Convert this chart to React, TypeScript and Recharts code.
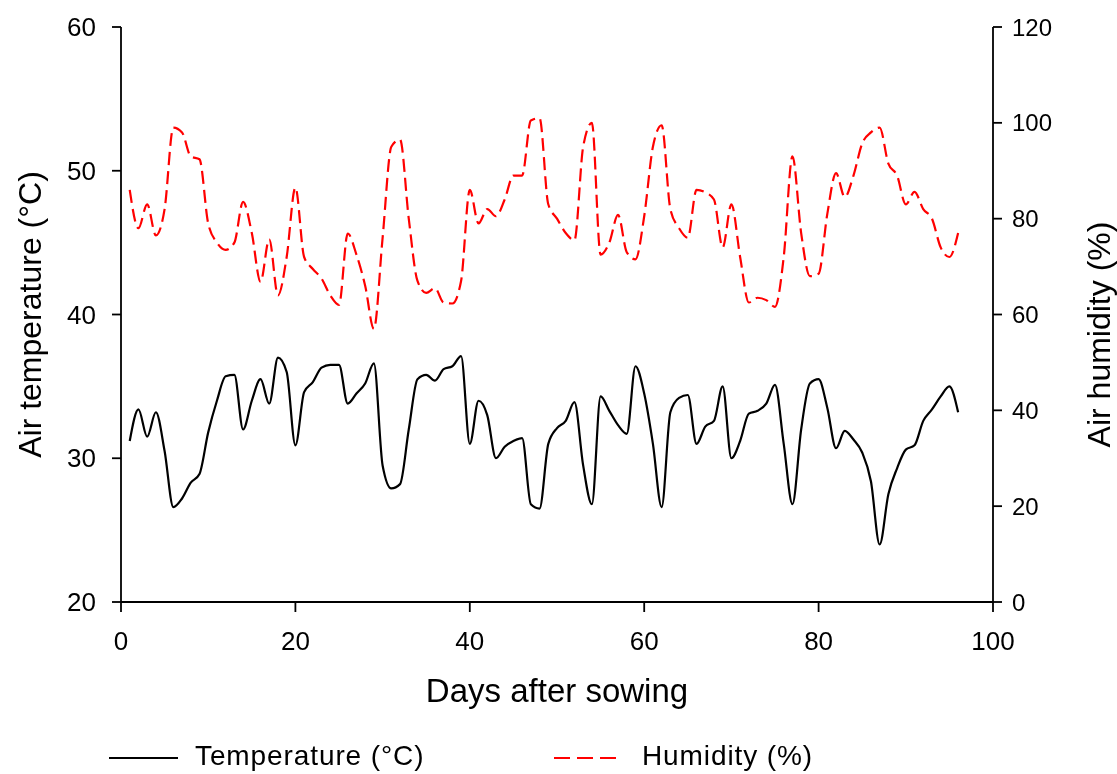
import { LineChart, Line, XAxis, YAxis, Legend } from "recharts";

const days = [
  1, 2, 3, 4, 5, 6, 7, 8, 9, 10, 11, 12, 13, 14, 15, 16, 17, 18, 19, 20,
  21, 22, 23, 24, 25, 26, 27, 28, 29, 30, 31, 32, 33, 34, 35, 36, 37, 38, 39, 40,
  41, 42, 43, 44, 45, 46, 47, 48, 49, 50, 51, 52, 53, 54, 55, 56, 57, 58, 59, 60,
  61, 62, 63, 64, 65, 66, 67, 68, 69, 70, 71, 72, 73, 74, 75, 76, 77, 78, 79, 80,
  81, 82, 83, 84, 85, 86, 87, 88, 89, 90, 91, 92, 93, 94, 95, 96,
];

const temperature = [
  31.2, 33.4, 31.5, 33.2, 30.5, 26.6, 27.2, 28.3, 28.9, 31.8,
  34.0, 35.7, 35.8, 32.0, 34.0, 35.5, 33.8, 37.0, 36.0, 30.9,
  34.6, 35.3, 36.3, 36.5, 36.5, 33.8, 34.5, 35.2, 36.6, 29.5,
  27.9, 28.2, 32.0, 35.5, 35.8, 35.4, 36.2, 36.4, 37.1, 31.0,
  34.0, 33.0, 30.0, 30.8, 31.2, 31.4, 26.8, 26.5, 31.0, 32.1,
  32.6, 33.9, 29.5, 26.8, 34.3, 33.3, 32.3, 31.7, 36.4, 34.5,
  31.0, 26.6, 33.2, 34.2, 34.4, 31.0, 32.2, 32.6, 35.0, 30.0,
  31.2, 33.1, 33.3, 33.8, 35.1, 31.0, 26.8, 32.0, 35.2, 35.5,
  33.5, 30.7, 31.9, 31.3, 30.4, 28.4, 24.0, 27.5, 29.3, 30.6,
  30.9, 32.6, 33.4, 34.3, 35.0, 33.2,
];

const humidity = [
  86, 78, 83, 76.5, 82, 99, 98, 93, 92.4, 79,
  75, 73.5, 75, 83.5, 77, 66.8, 75.7, 64, 72, 86.5,
  72, 69.5, 67.5, 64, 62, 76.9, 72.5, 66, 57, 76,
  95, 96.5, 80, 67, 64.5, 65.5, 62.5, 62.3, 67, 86,
  79, 82, 80.5, 84, 89, 89, 100.5, 101, 83, 80,
  77, 75.5, 95, 100, 72.5, 75, 80.8, 73, 71.5, 80.5,
  95, 99.5, 82, 78, 76, 86, 85.5, 84, 74, 83,
  72, 62.5, 63.5, 63, 61.6, 72, 93, 77, 68, 68.5,
  81, 89.5, 84.5, 89, 95.7, 98, 99, 91.5, 89, 83,
  85.6, 82, 80, 74, 72, 77,
];

const xTicks = [0, 20, 40, 60, 80, 100];
const tempTicks = [20, 30, 40, 50, 60];
const humTicks = [0, 20, 40, 60, 80, 100, 120];

const data = days.map((d, i) => ({ day: d, temp: temperature[i], hum: humidity[i] }));

const font = "'Liberation Sans', Arial, sans-serif";
const tickStyle = { fontSize: 26, fill: "#000", fontFamily: font };

function LegendBox() {
  const txt = { position: "absolute" as const, top: 0, lineHeight: "28px", whiteSpace: "nowrap" as const, letterSpacing: "0.9px" };
  return (
    <div style={{ position: "relative", width: 1109, height: 28, fontFamily: font, fontSize: 28, color: "#000" }}>
      <svg width={1109} height={28} style={{ position: "absolute", left: 0, top: 0 }}>
        <line x1={101} y1={16} x2={170} y2={16} stroke="#000" strokeWidth={2} />
        <line x1={546} y1={16} x2={609} y2={16} stroke="#ff0000" strokeWidth={2} strokeDasharray="16 7" />
      </svg>
      <span style={{ ...txt, left: 187 }}>Temperature (°C)</span>
      <span style={{ ...txt, left: 634 }}>Humidity (%)</span>
    </div>
  );
}

export default function App() {
  return (
    <div style={{ position: "fixed", left: 8, top: 8, width: 1109, height: 766, fontFamily: font, overflow: "hidden" }}>
      <LineChart width={1109} height={766} data={data} margin={{ top: 19, right: 0, left: 0, bottom: 0 }}>
        <XAxis
          dataKey="day"
          type="number"
          domain={[0, 100]}
          ticks={xTicks}
          height={172}
          tick={tickStyle}
          tickSize={10}
          tickMargin={20}
          stroke="#000"
          strokeWidth={1.8}
          label={{ value: "Days after sowing", position: "insideBottom", offset: 72, fontSize: 33, fill: "#000", fontFamily: font }}
        />
        <YAxis
          yAxisId="t"
          orientation="left"
          width={113}
          domain={[20, 60]}
          ticks={tempTicks}
          tick={tickStyle}
          tickSize={9}
          tickMargin={16}
          stroke="#000"
          strokeWidth={1.8}
          label={{
            content: (p: any) => {
              const vb = p.viewBox;
              const cy = vb.y + vb.height / 2;
              return (
                <text x={22} y={cy} transform={`rotate(-90 22 ${cy})`} textAnchor="middle" dominantBaseline="central" fontSize={32} fill="#000" fontFamily={font}>
                  Air temperature (°C)
                </text>
              );
            },
          }}
        />
        <YAxis
          yAxisId="h"
          orientation="right"
          width={124}
          domain={[0, 120]}
          ticks={humTicks}
          tick={{ ...tickStyle, fontSize: 24 }}
          tickSize={9}
          tickMargin={10}
          stroke="#000"
          strokeWidth={1.8}
          label={{
            content: (p: any) => {
              const vb = p.viewBox;
              const cy = vb.y + vb.height / 2 + 20;
              return (
                <text x={1091} y={cy} transform={`rotate(-90 1091 ${cy})`} textAnchor="middle" dominantBaseline="central" fontSize={32} fill="#000" fontFamily={font}>
                  Air humidity (%)
                </text>
              );
            },
          }}
        />
        <Legend
          layout="horizontal"
          verticalAlign="middle"
          align="center"
          wrapperStyle={{ top: 734, left: 0, width: 1109 }}
          content={() => <LegendBox />}
        />
        <Line
          yAxisId="h"
          type="monotone"
          dataKey="hum"
          stroke="#ff0000"
          strokeWidth={2.2}
          strokeDasharray="13 6"
          dot={false}
          isAnimationActive={false}
        />
        <Line
          yAxisId="t"
          type="monotone"
          dataKey="temp"
          stroke="#000"
          strokeWidth={2.2}
          dot={false}
          isAnimationActive={false}
        />
      </LineChart>
    </div>
  );
}
